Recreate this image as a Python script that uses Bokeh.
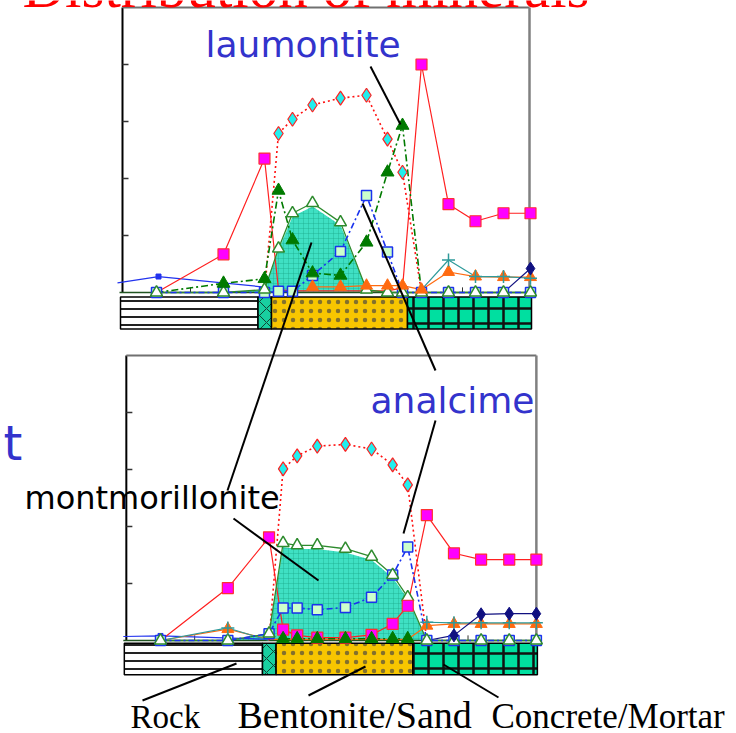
import numpy as np
from bokeh.plotting import figure
from bokeh.models import Range1d
from bokeh.core.properties import value
from bokeh.embed import file_html
from bokeh.resources import INLINE

nan = float("nan")

# ---------------- data ----------------
# sampling positions (distance units) shared by both panels
dist = [0.0, 6.7, 10.8, 12.2, 13.6, 15.6, 18.4, 21.0, 23.1, 24.6, 26.5, 29.2, 31.9, 34.7, 37.4]

# layer boundaries along distance
layer_edges = [-3.6, 10.15, 11.5, 25.1, 37.5]
layer_names = ["Rock", "Bentonite/Sand", "Concrete/Mortar"]

# upper panel
up_magenta = [0.0, 0.67, 2.35, 0.05, 0.03, 0.03, 0.03, 0.03, 0.03, 0.08, 4.0, 1.55, 1.25, 1.39, 1.39]
up_cyan = [nan, nan, 0.0, 2.79, 3.04, 3.29, 3.41, 3.46, 2.69, 2.11, 0.0, nan, nan, nan, nan]
up_laumontite = [0.0, 0.16, 0.24, 1.79, 0.92, 0.34, 0.30, 0.88, 2.11, 2.93, 0.0, nan, nan, nan, nan]
up_montmorillonite = [0.0, 0.0, 0.05, 0.77, 1.39, 1.57, 1.23, 0.05, 0.0, 0.0, 0.0, 0.0, 0.0, 0.0, 0.0]
up_analcime = [0.0, 0.0, 0.0, 0.02, 0.02, 0.30, 0.72, 1.70, 0.71, 0.0, 0.0, 0.0, 0.0, 0.0, 0.0]
up_orange = [nan, nan, nan, nan, nan, 0.10, 0.10, 0.12, 0.12, 0.12, 0.05, 0.36, 0.28, 0.27, 0.27]
up_teal = [nan, nan, nan, nan, nan, nan, nan, nan, nan, nan, 0.05, 0.57, 0.28, 0.28, 0.25]
up_navy = [nan, nan, nan, nan, nan, nan, nan, nan, nan, nan, nan, nan, nan, 0.0, 0.42]
up_blue_x = [-3.9, 0.2, 11.1]
up_blue = [0.17, 0.28, 0.09]

# lower panel
lo_magenta = [0.0, 0.92, 1.81, 0.19, 0.09, 0.05, 0.05, 0.10, 0.29, 0.61, 2.20, 1.53, 1.42, 1.42, 1.42]
lo_cyan = [nan, nan, 0.0, 3.01, 3.24, 3.41, 3.44, 3.36, 3.08, 2.73, 0.0, nan, nan, nan, nan]
lo_laumontite = [nan, nan, nan, 0.03, 0.03, 0.03, 0.03, 0.03, 0.03, 0.03, nan, nan, nan, nan, nan]
lo_montmorillonite = [0.0, 0.0, 0.12, 1.71, 1.67, 1.67, 1.61, 1.47, 1.15, 0.76, 0.0, 0.0, 0.0, 0.0, 0.0]
lo_analcime = [0.0, 0.0, 0.12, 0.57, 0.57, 0.54, 0.58, 0.76, 1.15, 1.64, 0.0, 0.0, 0.0, 0.0, 0.0]
lo_orange = [0.0, 0.20, 0.02, 0.02, 0.02, 0.02, 0.02, 0.02, 0.02, 0.02, 0.26, 0.29, 0.29, 0.29, 0.29]
lo_teal = [0.0, 0.22, 0.0, nan, nan, nan, nan, nan, nan, nan, 0.32, 0.31, 0.31, 0.31, 0.31]
lo_navy = [nan, nan, nan, nan, nan, nan, nan, nan, nan, nan, 0.0, 0.09, 0.46, 0.47, 0.47]
lo_blue_x = [-3.7, 0.0, 10.9]
lo_blue = [0.07, 0.08, 0.02]

yticks = [1, 2, 3, 4]
xticks = [3.4, 17.0, 30.6]

# ---------------- figure ----------------
W, H = 736, 733
p = figure(width=W, height=H, x_range=Range1d(0, W), y_range=Range1d(H, 0),
           output_backend="svg", toolbar_location=None, min_border=0,
           x_axis_location=None, y_axis_location=None)
p.grid.visible = False
p.outline_line_color = None
p.background_fill_color = "white"
p.border_fill_color = "white"

# panel placement: (origin px x, origin px y, px per x unit, px per y unit)
panels = {"t": (156.0, 292.0, 10.0, 57.0), "b": (160.0, 640.0, 10.05, 57.0)}
p.extra_x_ranges = {k: Range1d((0 - x0) / sx, (W - x0) / sx) for k, (x0, y0, sx, sy) in panels.items()}
p.extra_y_ranges = {k: Range1d((y0 - H) / sy, y0 / sy) for k, (x0, y0, sx, sy) in panels.items()}

def A(v):
    return np.array(v, dtype=float)

def draw_panel(k, d, strip, frame_left, frame_right):
    R = dict(x_range_name=k, y_range_name=k)
    x = A(dist)
    # layer strip
    sb, st = strip
    e = layer_edges
    p.quad(left=[e[0]], right=[e[1]], bottom=[sb], top=[st], fill_color="white",
           hatch_pattern="-", hatch_color="#222222", hatch_scale=8, hatch_weight=2,
           line_color="black", line_width=1.5, **R)
    p.quad(left=[e[1]], right=[e[2]], bottom=[sb], top=[st], fill_color="#19CFA0",
           hatch_pattern="x", hatch_color="#114433", hatch_scale=14, hatch_weight=1,
           line_color="black", line_width=1.5, **R)
    p.quad(left=[e[2]], right=[e[3]], bottom=[sb], top=[st], fill_color="#F8C600",
           hatch_pattern=".", hatch_color="#444444", hatch_alpha=0.65, hatch_scale=9, hatch_weight=1,
           line_color="black", line_width=1.5, **R)
    p.quad(left=[e[3]], right=[e[4]], bottom=[sb], top=[st], fill_color="#00DFA0",
           hatch_pattern="+", hatch_color="#111111", hatch_scale=15, hatch_weight=2.5,
           line_color="black", line_width=1.5, **R)

    # frame
    p.segment(x0=[frame_left], y0=[0], x1=[frame_left], y1=[5], line_color="black", line_width=2, **R)
    p.segment(x0=[frame_left], y0=[5], x1=[frame_right], y1=[5], line_color="#707070", line_width=2, **R)
    p.segment(x0=[frame_right], y0=[0], x1=[frame_right], y1=[5], line_color="#808080", line_width=2.5, **R)
    p.segment(x0=[frame_left] * len(yticks), y0=yticks, x1=[frame_left + 0.6] * len(yticks), y1=yticks,
              line_color="#333333", line_width=1.5, **R)
    p.segment(x0=xticks, y0=[0] * len(xticks), x1=xticks, y1=[0.09] * len(xticks),
              line_color="#333333", line_width=1, **R)

    # montmorillonite area
    mont = A(d["mont"])
    p.varea(x=x, y1=np.zeros_like(mont), y2=mont * 0.96, fill_color="#3FE0C3",
            hatch_pattern="+", hatch_color="#1AA88A", hatch_alpha=0.55, hatch_scale=5, hatch_weight=0.7, **R)

    # baseline
    p.segment(x0=[e[0] - 0.1], y0=[0], x1=[e[4]], y1=[0], line_color="#225522", line_width=1.5, **R)

    # lines
    p.line(A(d["bx"]), A(d["blue"]), line_color="#2233EE", line_width=1.2, **R)
    p.line(x, A(d["orange"]), line_color="#FF6A10", line_width=1.2, **R)
    p.line(x, A(d["teal"]), line_color="#2E9A9A", line_width=1.2, **R)
    p.line(x, A(d["navy"]), line_color="#101080", line_width=1.2, **R)
    p.line(x, A(d["magenta"]), line_color="#FF2020", line_width=1.2, **R)
    p.line(x, A(d["cyan"]), line_color="#FF1010", line_width=1.6, line_dash="2 3", **R)
    p.line(x, A(d["laum"]), line_color="#007A00", line_width=1.6, line_dash="7 3 2 3", **R)
    p.line(x, mont, line_color="#2E8B2E", line_width=1.3, **R)
    p.line(x, A(d["anal"]), line_color="#1A33EE", line_width=1.6, line_dash="6 3 2 3", **R)

    # markers
    bx = A(d["bx"])
    bm = (bx > frame_left) & (bx < layer_edges[1])
    p.scatter(bx[bm], A(d["blue"])[bm], marker="square", size=5, fill_color="#2233EE", line_color="#2233EE", **R)
    an = A(d["anal"])
    p.scatter(x, an, marker="square", size=10, fill_color="#CCFFCC", line_color="#1A33EE", line_width=1.5, **R)
    p.scatter(x, mont, marker="triangle", size=12, fill_color="white", line_color="#2E8B2E", line_width=1.5, **R)
    mg = A(d["magenta"])
    m = mg > d["mag_min"]
    p.scatter(x[m], mg[m], marker="square", size=11, fill_color="#FF00FF", line_color="#FF3030", line_width=1.2, **R)
    cy = A(d["cyan"])
    m = cy > 0.1
    p.scatter(x[m], cy[m], marker="diamond", size=14, fill_color="#22EEEE", line_color="#FF2020", line_width=1.2, **R)
    la = A(d["laum"])
    m = la > 0.0
    p.scatter(x[m], la[m], marker="triangle", size=13, fill_color="#007A00", line_color="#007A00", **R)
    og = A(d["orange"])
    m = og > 0.04
    p.scatter(x[m], og[m], marker="triangle", size=12, fill_color="#FF6A10", line_color="#FF6A10", **R)
    te = A(d["teal"])
    m = te > 0.1
    p.scatter(x[m], te[m], marker="cross", size=13, line_color="#2E9A9A", line_width=1.5, **R)
    nv = A(d["navy"])
    m = nv > 0.05
    p.scatter(x[m], nv[m], marker="diamond", size=13, fill_color="#101080", line_color="#101080", **R)


draw_panel("t", dict(magenta=up_magenta, cyan=up_cyan, laum=up_laumontite, mont=up_montmorillonite,
                     anal=up_analcime, orange=up_orange, teal=up_teal, navy=up_navy,
                     bx=up_blue_x, blue=up_blue, mag_min=0.3),
           strip=(-0.64, -0.08), frame_left=-3.4, frame_right=37.3)
draw_panel("b", dict(magenta=lo_magenta, cyan=lo_cyan, laum=lo_laumontite, mont=lo_montmorillonite,
                     anal=lo_analcime, orange=lo_orange, teal=lo_teal, navy=lo_navy,
                     bx=lo_blue_x, blue=lo_blue, mag_min=0.01),
           strip=(-0.60, -0.05), frame_left=-3.4, frame_right=37.4)

# leader lines (page annotations)
lead_x0 = [370, 311, 233, 362, 435, 236, 365, 443]
lead_y0 = [66, 242, 518, 203, 420, 663, 666, 664]
lead_x1 = [400, 227, 318, 435, 403, 142, 308, 498]
lead_y1 = [124, 490, 580, 370, 533, 700, 695, 697]
p.segment(x0=lead_x0, y0=lead_y0, x1=lead_x1, y1=lead_y1, line_color="black", line_width=2)

# texts (y is the intended baseline; the renderer places the anchor at mid-height,
# so shift up by ~0.37 of the font size)
def lab(txt, x, y, size, color, font):
    p.text(x=[x], y=[y - 0.37 * size], text=[txt], text_font=value(font), text_font_size=value(f"{size}px"),
           text_color=color, text_baseline="alphabetic", text_align="left")

lab("Distribution of minerals", 22, 8, 59, "#FF0000", "Liberation Serif")
lab("laumontite", 205, 57, 36, "#3333CC", "DejaVu Sans")
lab("analcime", 370, 413, 36, "#3333CC", "DejaVu Sans")
lab("montmorillonite", 24, 509, 32, "black", "DejaVu Sans")
lab("t", 3, 460, 48, "#3333CC", "DejaVu Sans")
lab(layer_names[0], 130, 729, 33, "black", "Liberation Serif")
lab(layer_names[1], 237, 729, 38, "black", "Liberation Serif")
lab(layer_names[2], 491, 729, 35, "black", "Liberation Serif")

open("out.html", "w").write(file_html(p, INLINE))
